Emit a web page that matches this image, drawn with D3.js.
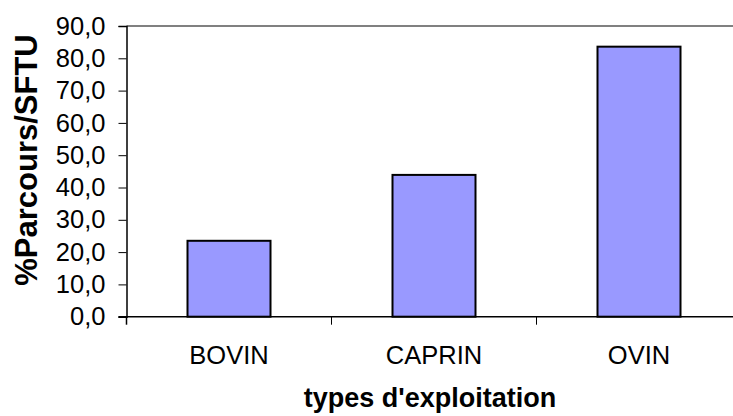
<!DOCTYPE html>
<html><head><meta charset="utf-8">
<script src="https://cdn.jsdelivr.net/npm/d3@7"></script>
<style>body{margin:0;background:#fff}svg{display:block}text{font-family:"Liberation Sans",Arial,sans-serif}</style>
</head><body>
<svg id="c" width="733" height="416"></svg>
<script>
const categories = ["BOVIN", "CAPRIN", "OVIN"];
const values = [23.5, 43.9, 83.6];
const yTicks = [0, 10, 20, 30, 40, 50, 60, 70, 80, 90];
const xTitle = "types d'exploitation";
const yTitle = "%Parcours/SFTU";

const svg = d3.select("#c");
const L = 126.5, R = 741.5, T = 26, B = 316.7;
const xb = d3.scaleBand().domain(categories).range([L, R]);
const y = d3.scaleLinear().domain([0, 90]).range([B, T]);
const fmt = d => d.toFixed(1).replace(".", ",");
const FF = "Liberation Sans, Arial, sans-serif";

// top border of plot area
svg.append("line").attr("x1", L).attr("x2", 733).attr("y1", T).attr("y2", T)
  .attr("stroke", "#808080").attr("stroke-width", 2);

// bars
svg.selectAll("rect.bar").data(values).join("rect")
  .attr("x", (d, i) => xb(categories[i]) + xb.bandwidth() / 2 - 41.5)
  .attr("width", 83)
  .attr("y", d => y(d))
  .attr("height", d => y(0) - y(d))
  .attr("fill", "#9999ff").attr("stroke", "#000").attr("stroke-width", 2);

// y axis
const ya = svg.append("g").attr("transform", `translate(${L},0)`)
  .call(d3.axisLeft(y).tickValues(yTicks).tickFormat(fmt).tickSize(8).tickPadding(13));
ya.select(".domain").attr("stroke", "#000").attr("stroke-width", 1.5);
ya.selectAll(".tick line").attr("stroke", "#000");
ya.selectAll(".tick text").attr("font-size", 25.5).attr("fill", "#000").attr("font-family", FF);

// x axis
const xa = svg.append("g").attr("transform", `translate(0,${B})`)
  .call(d3.axisBottom(xb).tickSize(0).tickPadding(29));
xa.select(".domain").remove();
svg.append("line").attr("x1", L - 8).attr("x2", 733).attr("y1", B).attr("y2", B)
  .attr("stroke", "#000").attr("stroke-width", 1.5);
xa.selectAll(".tick text").attr("font-size", 25.5).attr("fill", "#000").attr("font-family", FF);
// category separator ticks
svg.selectAll("line.sep").data(categories.slice(1)).join("line")
  .attr("x1", d => xb(d)).attr("x2", d => xb(d))
  .attr("y1", B).attr("y2", B + 8).attr("stroke", "#000").attr("stroke-width", 1);
svg.append("line").attr("x1", L).attr("x2", L).attr("y1", B).attr("y2", B + 8)
  .attr("stroke", "#000").attr("stroke-width", 1.5);

// titles
svg.append("text").attr("x", 430).attr("y", 407).attr("text-anchor", "middle")
  .attr("font-size", 27).attr("font-weight", "bold").text(xTitle);
svg.append("text").attr("transform", `translate(37,160) rotate(-90)`)
  .attr("text-anchor", "middle").attr("font-size", 31).attr("font-weight", "bold").text(yTitle);
</script>
</body></html>
